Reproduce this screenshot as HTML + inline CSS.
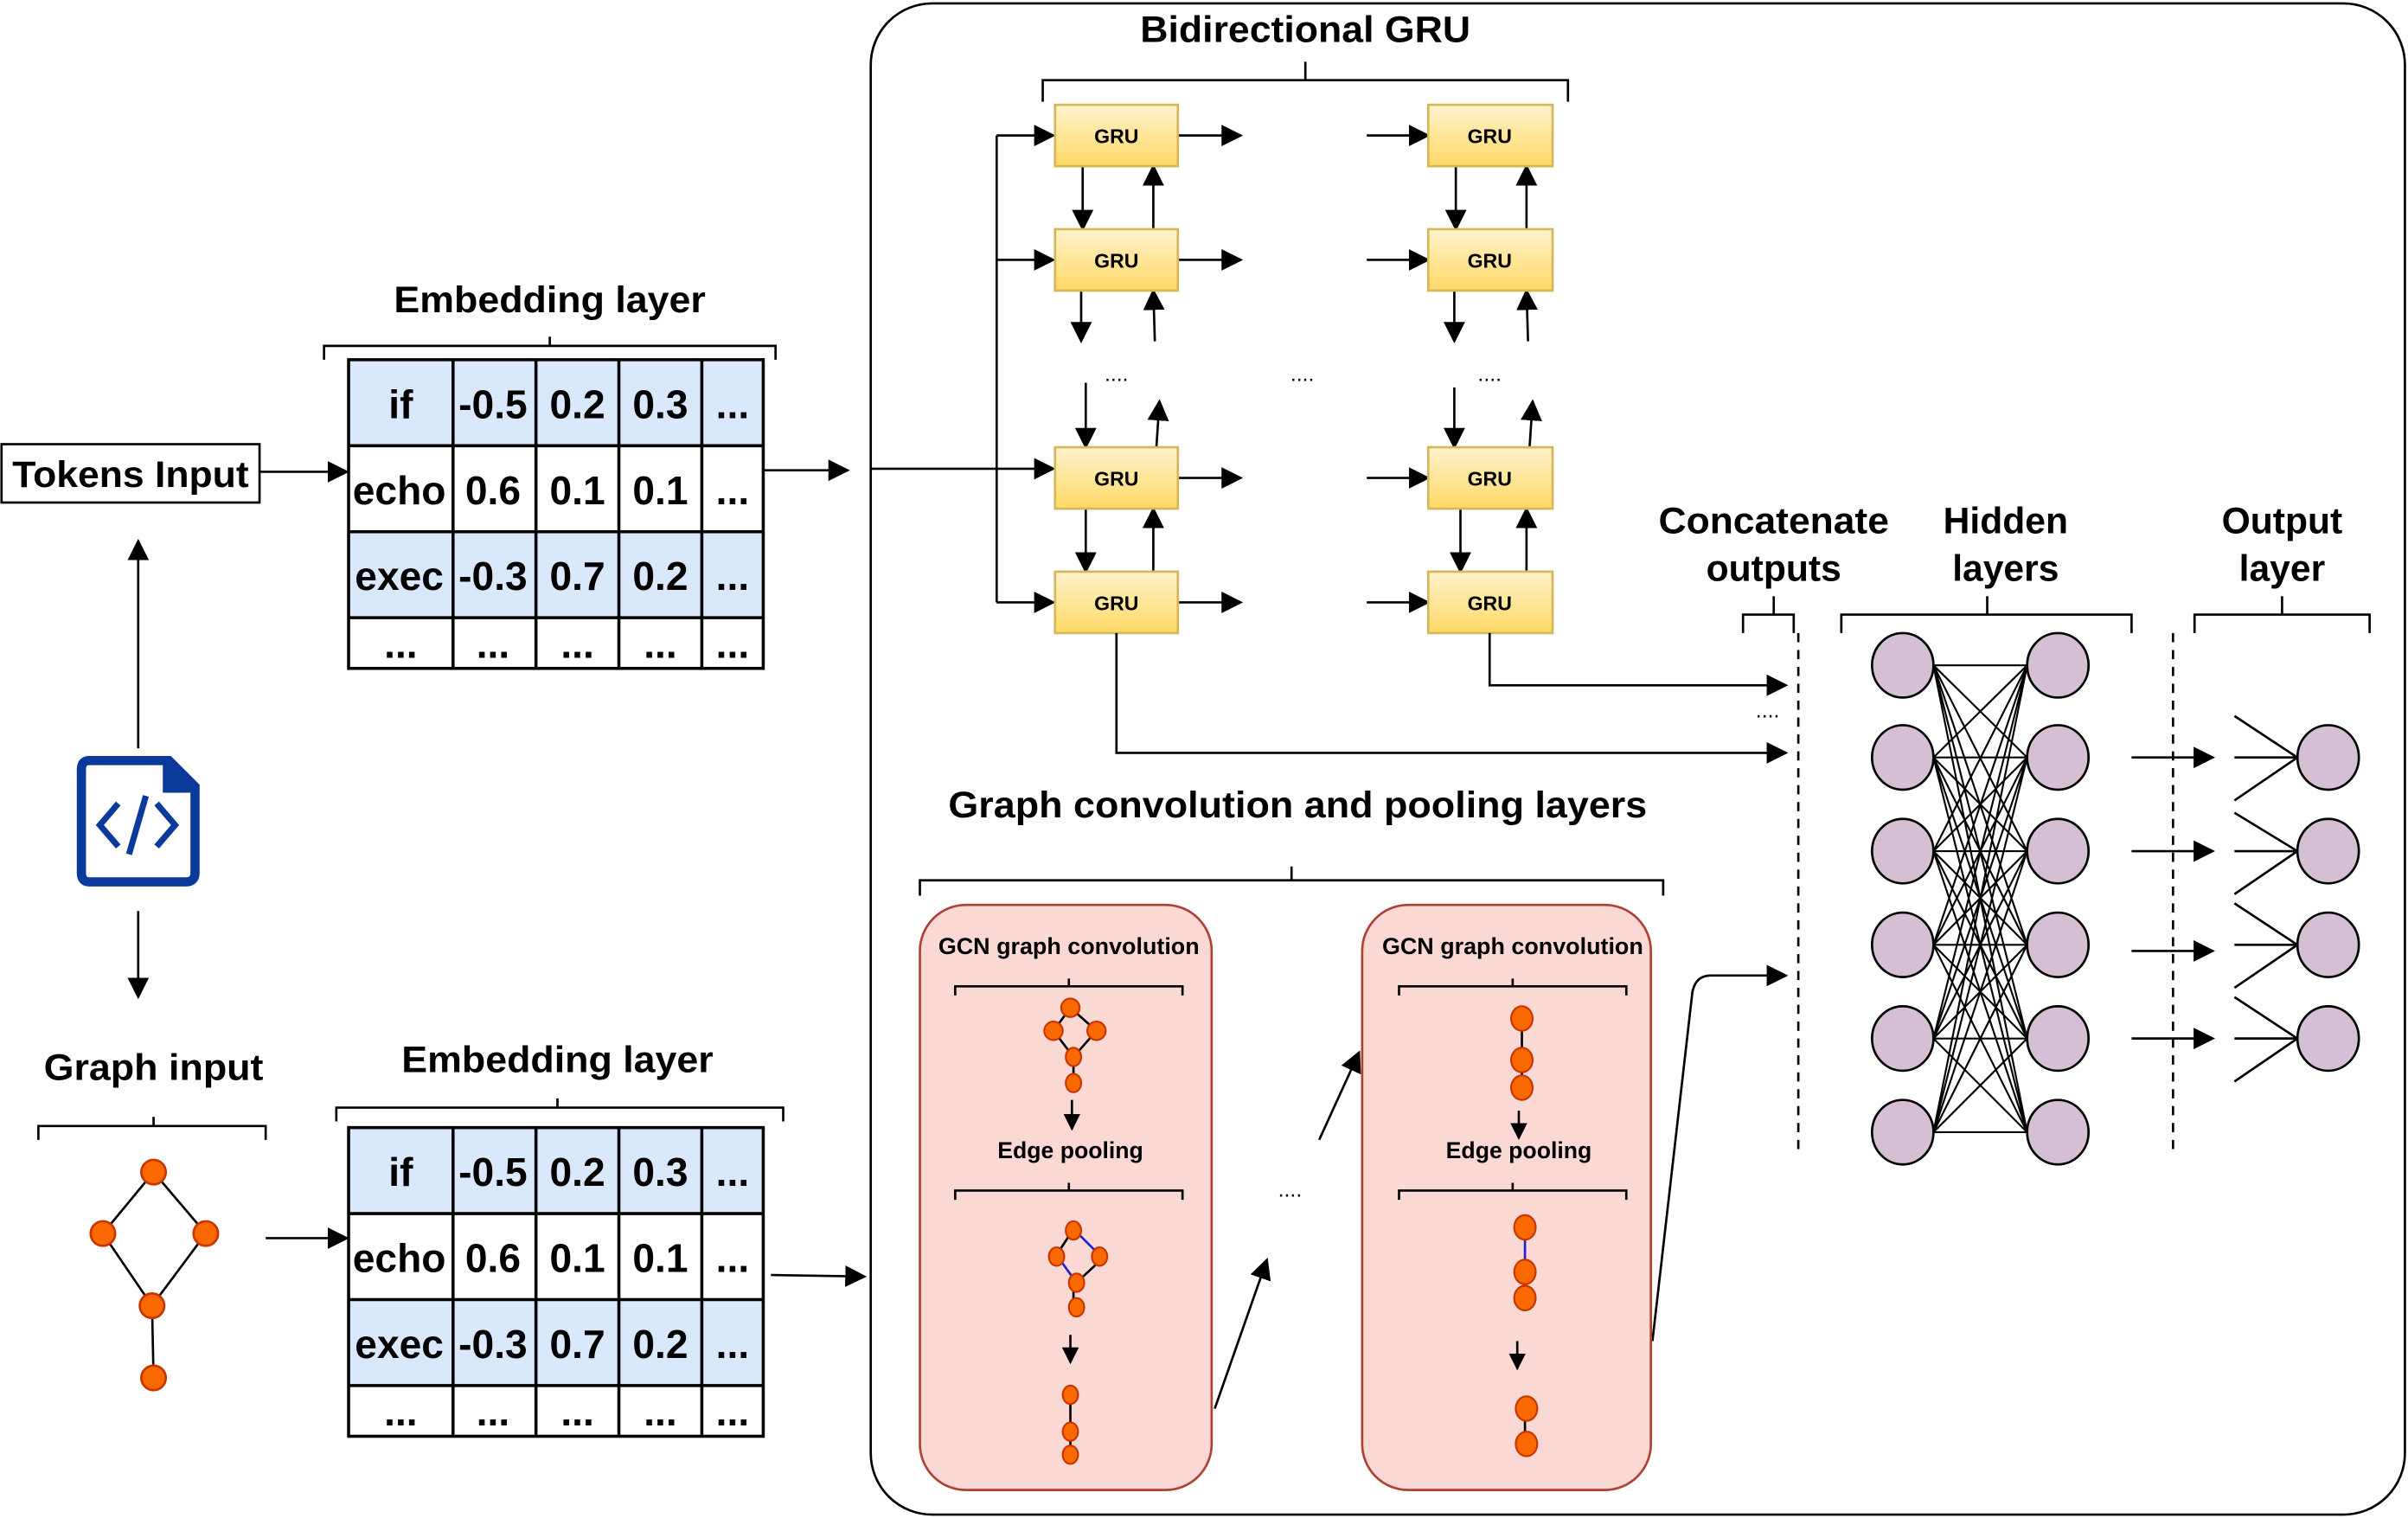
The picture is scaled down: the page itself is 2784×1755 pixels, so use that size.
<!DOCTYPE html>
<html><head><meta charset="utf-8"><style>
html,body{margin:0;padding:0;background:#fff}
svg{display:block}
text{font-family:"Liberation Sans",sans-serif;font-weight:bold;fill:#000}
</style></head><body>
<svg width="2784" height="1755" viewBox="0 0 1568 988" xmlns="http://www.w3.org/2000/svg">
<defs>
<marker id="a" viewBox="0 0 10 10" refX="9" refY="5" markerWidth="11" markerHeight="11" orient="auto" markerUnits="userSpaceOnUse"><path d="M0,0 L10,5 L0,10 z" fill="#000"/></marker>
<marker id="b" viewBox="0 0 10 10" refX="9" refY="5" markerWidth="14" markerHeight="14" orient="auto" markerUnits="userSpaceOnUse"><path d="M0,0 L10,5 L0,10 z" fill="#000"/></marker>
<linearGradient id="g" x1="0" y1="0" x2="0" y2="1"><stop offset="0" stop-color="#fff2cc"/><stop offset="1" stop-color="#ffd966"/></linearGradient>
</defs>
<rect x="567" y="2" width="999" height="984" rx="40" fill="none" stroke="#000" stroke-width="1.5"/>

<rect x="1" y="289" width="168" height="38" fill="#fff" stroke="#000" stroke-width="1.5"/>
<text x="85" y="317" font-size="24" text-anchor="middle" textLength="154" lengthAdjust="spacingAndGlyphs">Tokens Input</text>
<g stroke="#000" stroke-width="1.5" fill="none">
<line x1="169" y1="307" x2="226" y2="307" marker-end="url(#b)"/>
<line x1="90" y1="487" x2="90" y2="352" marker-end="url(#b)"/>
<line x1="90" y1="593" x2="90" y2="649" marker-end="url(#b)"/>
<line x1="173" y1="806" x2="226" y2="806" marker-end="url(#b)"/>
<line x1="497" y1="306" x2="552" y2="306" marker-end="url(#b)"/>
<line x1="502" y1="830" x2="563" y2="831" marker-end="url(#b)"/>
</g>
<path d="M58,495 H110 L127,512 V568 Q127,574 121,574 H58 Q53,574 53,568 V501 Q53,495 58,495 Z" fill="#fff" stroke="#0c3a9c" stroke-width="6"/>
<path d="M106,495 V516 H127" fill="#0c3a9c"/>
<path d="M77,523 L65,537 L77,551 M102,523 L114,537 L102,551 M95,518 L84,556" stroke="#0c3a9c" stroke-width="4" fill="none"/>

<text x="100" y="703" font-size="24" text-anchor="middle" textLength="143" lengthAdjust="spacingAndGlyphs">Graph input</text>
<path d="M25,742 V733 H173 V742 M100,733 V727" stroke="#000" stroke-width="1.5" fill="none"/>
<g stroke="#000" stroke-width="1.5"><line x1="100" y1="763" x2="67" y2="803"/><line x1="100" y1="763" x2="134" y2="803"/><line x1="67" y1="803" x2="99" y2="850"/><line x1="134" y1="803" x2="99" y2="850"/><line x1="99" y1="850" x2="100" y2="897"/></g>
<g fill="#fa6800" stroke="#c73500" stroke-width="1.5"><circle cx="100" cy="763" r="8"/><circle cx="67" cy="803" r="8"/><circle cx="134" cy="803" r="8"/><circle cx="99" cy="850" r="8"/><circle cx="100" cy="897" r="8"/></g>

<text x="358" y="203" font-size="24" text-anchor="middle" textLength="203" lengthAdjust="spacingAndGlyphs">Embedding layer</text>
<path d="M211,234 V225 H505 V234 M358,225 V219" stroke="#000" stroke-width="1.5" fill="none"/>
<g id="t1">
<rect x="227" y="234" width="270" height="56" fill="#dae8fc"/>
<rect x="227" y="346" width="270" height="56" fill="#dae8fc"/>
<g stroke="#000" stroke-width="2" fill="none">
<rect x="227" y="234" width="270" height="201"/>
<line x1="227" y1="290" x2="497" y2="290"/><line x1="227" y1="346" x2="497" y2="346"/><line x1="227" y1="402" x2="497" y2="402"/>
<line x1="295" y1="234" x2="295" y2="435"/><line x1="349" y1="234" x2="349" y2="435"/><line x1="403" y1="234" x2="403" y2="435"/><line x1="457" y1="234" x2="457" y2="435"/>
</g>
<g font-size="26" text-anchor="middle">
<text x="261" y="272">if</text><text x="321" y="272">-0.5</text><text x="376" y="272">0.2</text><text x="430" y="272">0.3</text><text x="477" y="272">...</text>
<text x="260" y="328">echo</text><text x="321" y="328">0.6</text><text x="376" y="328">0.1</text><text x="430" y="328">0.1</text><text x="477" y="328">...</text>
<text x="260" y="384">exec</text><text x="321" y="384">-0.3</text><text x="376" y="384">0.7</text><text x="430" y="384">0.2</text><text x="477" y="384">...</text>
<text x="261" y="428">...</text><text x="321" y="428">...</text><text x="376" y="428">...</text><text x="430" y="428">...</text><text x="477" y="428">...</text>
</g>
</g>
<text x="363" y="698" font-size="24" text-anchor="middle" textLength="203" lengthAdjust="spacingAndGlyphs">Embedding layer</text>
<path d="M219,730 V721 H510 V730 M363,721 V715" stroke="#000" stroke-width="1.5" fill="none"/>
<use href="#t1" transform="translate(0,500)"/>

<text x="850" y="27" font-size="24" text-anchor="middle" textLength="215" lengthAdjust="spacingAndGlyphs">Bidirectional GRU</text>
<path d="M679,66 V52 H1021 V66 M850,52 V40" stroke="#000" stroke-width="1.5" fill="none"/>
<g stroke="#000" stroke-width="1.5" fill="none">
<path d="M649,88 V392"/>
<line x1="567" y1="305" x2="686" y2="305" marker-end="url(#b)"/>
<line x1="649" y1="88" x2="686" y2="88" marker-end="url(#b)"/>
<line x1="649" y1="169" x2="686" y2="169" marker-end="url(#b)"/>
<line x1="649" y1="392" x2="686" y2="392" marker-end="url(#b)"/>
</g>
<g stroke="#000" stroke-width="1.5" fill="none">
<line x1="767" y1="88" x2="808" y2="88" marker-end="url(#b)"/>
<line x1="767" y1="169" x2="808" y2="169" marker-end="url(#b)"/>
<line x1="767" y1="311" x2="808" y2="311" marker-end="url(#b)"/>
<line x1="767" y1="392" x2="808" y2="392" marker-end="url(#b)"/>
<line x1="890" y1="88" x2="930" y2="88" marker-end="url(#b)"/>
<line x1="890" y1="169" x2="930" y2="169" marker-end="url(#b)"/>
<line x1="890" y1="311" x2="930" y2="311" marker-end="url(#b)"/>
<line x1="890" y1="392" x2="930" y2="392" marker-end="url(#b)"/>
<line x1="705" y1="108" x2="705" y2="149" marker-end="url(#b)"/><line x1="751" y1="149" x2="751" y2="108" marker-end="url(#b)"/>
<line x1="704" y1="189" x2="704" y2="222" marker-end="url(#b)"/><line x1="752" y1="222" x2="751" y2="189" marker-end="url(#b)"/>
<line x1="707" y1="249" x2="707" y2="291" marker-end="url(#b)"/><line x1="753" y1="291" x2="755" y2="261" marker-end="url(#b)"/>
<line x1="707" y1="331" x2="707" y2="372" marker-end="url(#b)"/><line x1="751" y1="372" x2="751" y2="331" marker-end="url(#b)"/>
<line x1="948" y1="108" x2="948" y2="149" marker-end="url(#b)"/><line x1="994" y1="149" x2="994" y2="108" marker-end="url(#b)"/>
<line x1="947" y1="189" x2="947" y2="222" marker-end="url(#b)"/><line x1="995" y1="222" x2="994" y2="189" marker-end="url(#b)"/>
<line x1="947" y1="252" x2="947" y2="291" marker-end="url(#b)"/><line x1="996" y1="291" x2="998" y2="261" marker-end="url(#b)"/>
<line x1="951" y1="331" x2="951" y2="372" marker-end="url(#b)"/><line x1="994" y1="372" x2="994" y2="331" marker-end="url(#b)"/>
</g>
<g fill="url(#g)" stroke="#d6b656" stroke-width="1.5">
<rect x="687" y="68" width="80" height="40"/><rect x="687" y="149" width="80" height="40"/><rect x="687" y="291" width="80" height="40"/><rect x="687" y="372" width="80" height="40"/>
<rect x="930" y="68" width="81" height="40"/><rect x="930" y="149" width="81" height="40"/><rect x="930" y="291" width="81" height="40"/><rect x="930" y="372" width="81" height="40"/>
</g>
<g font-size="13" text-anchor="middle">
<text x="727" y="93">GRU</text><text x="727" y="174">GRU</text><text x="727" y="316">GRU</text><text x="727" y="397">GRU</text>
<text x="970" y="93">GRU</text><text x="970" y="174">GRU</text><text x="970" y="316">GRU</text><text x="970" y="397">GRU</text>
</g>
<g font-size="14" text-anchor="middle"><text x="727" y="248" style="font-weight:normal">....</text><text x="848" y="248" style="font-weight:normal">....</text><text x="970" y="248" style="font-weight:normal">....</text><text x="1151" y="467" style="font-weight:normal">....</text><text x="840" y="779" style="font-weight:normal">....</text></g>

<g stroke="#000" stroke-width="1.5" fill="none">
<path d="M970,412 V446 H1163" marker-end="url(#b)"/>
<path d="M727,412 V490 H1163" marker-end="url(#b)"/>
<path d="M1076,873 L1102,646 Q1104,635 1114,635 H1163" marker-end="url(#b)"/>
<line x1="791" y1="917" x2="825" y2="820" marker-end="url(#b)"/>
<line x1="859" y1="742" x2="885" y2="685" marker-end="url(#b)"/>
</g>

<text x="845" y="532" font-size="24" text-anchor="middle" textLength="455" lengthAdjust="spacingAndGlyphs">Graph convolution and pooling layers</text>
<path d="M599,583 V573 H1083 V583 M841,573 V564" stroke="#000" stroke-width="1.5" fill="none"/>
<rect x="599" y="589" width="190" height="381" rx="30" fill="#fad9d5" stroke="#ae4132" stroke-width="1.5"/>
<rect x="887" y="589" width="188" height="381" rx="30" fill="#fad9d5" stroke="#ae4132" stroke-width="1.5"/>
<g font-size="15" text-anchor="middle">
<text x="696" y="621" textLength="170" lengthAdjust="spacingAndGlyphs">GCN graph convolution</text><text x="985" y="621" textLength="170" lengthAdjust="spacingAndGlyphs">GCN graph convolution</text>
<text x="697" y="754">Edge pooling</text><text x="989" y="754">Edge pooling</text>
</g>
<g stroke="#000" stroke-width="1.5" fill="none">
<path d="M622,648 V642 H770 V648 M696,642 V637"/>
<path d="M622,781 V775 H770 V781 M696,775 V770"/>
<path d="M911,648 V642 H1059 V648 M985,642 V637"/>
<path d="M911,781 V775 H1059 V781 M985,775 V770"/>
<line x1="698" y1="716" x2="698" y2="735" marker-end="url(#a)"/>
<line x1="697" y1="869" x2="697" y2="887" marker-end="url(#a)"/>
<line x1="989" y1="723" x2="989" y2="741" marker-end="url(#a)"/>
<line x1="988" y1="873" x2="988" y2="891" marker-end="url(#a)"/>
<path d="M697,656 L686,671 L699,688 L714,671 Z M699,688 V705"/>
<path d="M699,800 L688,817 M701,835 L716,821 M699,835 V851"/>
<path d="M697,908 V948"/>
<path d="M991,662 V709"/>
<path d="M993,829 V844"/>
<path d="M993,917 V940"/>
</g>
<g stroke="#1f1fd0" stroke-width="1.5"><line x1="699" y1="800" x2="716" y2="817"/><line x1="688" y1="817" x2="701" y2="835"/><line x1="993" y1="798" x2="993" y2="820"/></g>
<g fill="#fa6800" stroke="#c73500" stroke-width="1.2">
<ellipse cx="697" cy="656" rx="6" ry="6"/><ellipse cx="686" cy="671" rx="6" ry="6"/><ellipse cx="714" cy="671" rx="6" ry="6"/><ellipse cx="699" cy="688" rx="5" ry="6"/><ellipse cx="699" cy="705" rx="5" ry="6"/>
<ellipse cx="699" cy="801" rx="5" ry="6"/><ellipse cx="688" cy="818" rx="5" ry="6"/><ellipse cx="716" cy="818" rx="5" ry="6"/><ellipse cx="701" cy="835" rx="5" ry="6"/><ellipse cx="701" cy="851" rx="5" ry="6"/>
<ellipse cx="697" cy="908" rx="5" ry="6"/><ellipse cx="697" cy="932" rx="5" ry="6"/><ellipse cx="697" cy="947" rx="5" ry="6"/>
<ellipse cx="991" cy="663" rx="7" ry="8"/><ellipse cx="991" cy="690" rx="7" ry="8"/><ellipse cx="991" cy="708" rx="7" ry="8"/>
<ellipse cx="993" cy="799" rx="7" ry="8"/><ellipse cx="993" cy="828" rx="7" ry="8"/><ellipse cx="993" cy="845" rx="7" ry="8"/>
<ellipse cx="994" cy="917" rx="7" ry="8"/><ellipse cx="994" cy="940" rx="7" ry="8"/>
</g>

<g font-size="24" text-anchor="middle">
<text x="1155" y="347" textLength="150" lengthAdjust="spacingAndGlyphs">Concatenate</text><text x="1155" y="378">outputs</text>
<text x="1306" y="347">Hidden</text><text x="1306" y="378">layers</text>
<text x="1486" y="347">Output</text><text x="1486" y="378">layer</text>
</g>
<g stroke="#000" stroke-width="1.5" fill="none">
<path d="M1135,412 V400 H1168 V412 M1155,400 V388"/>
<path d="M1199,412 V400 H1388 V412 M1294,400 V388"/>
<path d="M1429,412 V400 H1543 V412 M1486,400 V388"/>
<line x1="1171" y1="412" x2="1171" y2="750" stroke-dasharray="6,5"/>
<line x1="1415" y1="412" x2="1415" y2="750" stroke-dasharray="6,5"/>
<line x1="1388" y1="493" x2="1441" y2="493" marker-end="url(#b)"/>
<line x1="1388" y1="554" x2="1441" y2="554" marker-end="url(#b)"/>
<line x1="1388" y1="619" x2="1441" y2="619" marker-end="url(#b)"/>
<line x1="1388" y1="676" x2="1441" y2="676" marker-end="url(#b)"/>
<path d="M1455,466 L1496,493 L1455,521 M1455,493 H1496"/>
<path d="M1455,529 L1496,554 L1455,582 M1455,554 H1496"/>
<path d="M1455,588 L1496,615 L1455,643 M1455,615 H1496"/>
<path d="M1455,649 L1496,676 L1455,704 M1455,676 H1496"/>
</g>
<g stroke="#000" stroke-width="1.2">
<path d="M1259,433 L1320,433 M1259,433 L1320,493 M1259,433 L1320,554 M1259,433 L1320,615 M1259,433 L1320,676 M1259,433 L1320,737
M1259,493 L1320,433 M1259,493 L1320,493 M1259,493 L1320,554 M1259,493 L1320,615 M1259,493 L1320,676 M1259,493 L1320,737
M1259,554 L1320,433 M1259,554 L1320,493 M1259,554 L1320,554 M1259,554 L1320,615 M1259,554 L1320,676 M1259,554 L1320,737
M1259,615 L1320,433 M1259,615 L1320,493 M1259,615 L1320,554 M1259,615 L1320,615 M1259,615 L1320,676 M1259,615 L1320,737
M1259,676 L1320,433 M1259,676 L1320,493 M1259,676 L1320,554 M1259,676 L1320,615 M1259,676 L1320,676 M1259,676 L1320,737
M1259,737 L1320,433 M1259,737 L1320,493 M1259,737 L1320,554 M1259,737 L1320,615 M1259,737 L1320,676 M1259,737 L1320,737"/>
</g>
<g fill="#d5bfd5" stroke="#000" stroke-width="1.5">
<ellipse cx="1239" cy="433" rx="20" ry="21"/><ellipse cx="1239" cy="493" rx="20" ry="21"/><ellipse cx="1239" cy="554" rx="20" ry="21"/><ellipse cx="1239" cy="615" rx="20" ry="21"/><ellipse cx="1239" cy="676" rx="20" ry="21"/><ellipse cx="1239" cy="737" rx="20" ry="21"/>
<ellipse cx="1340" cy="433" rx="20" ry="21"/><ellipse cx="1340" cy="493" rx="20" ry="21"/><ellipse cx="1340" cy="554" rx="20" ry="21"/><ellipse cx="1340" cy="615" rx="20" ry="21"/><ellipse cx="1340" cy="676" rx="20" ry="21"/><ellipse cx="1340" cy="737" rx="20" ry="21"/>
<ellipse cx="1516" cy="493" rx="20" ry="21"/><ellipse cx="1516" cy="554" rx="20" ry="21"/><ellipse cx="1516" cy="615" rx="20" ry="21"/><ellipse cx="1516" cy="676" rx="20" ry="21"/>
</g>
</svg>
</body></html>
